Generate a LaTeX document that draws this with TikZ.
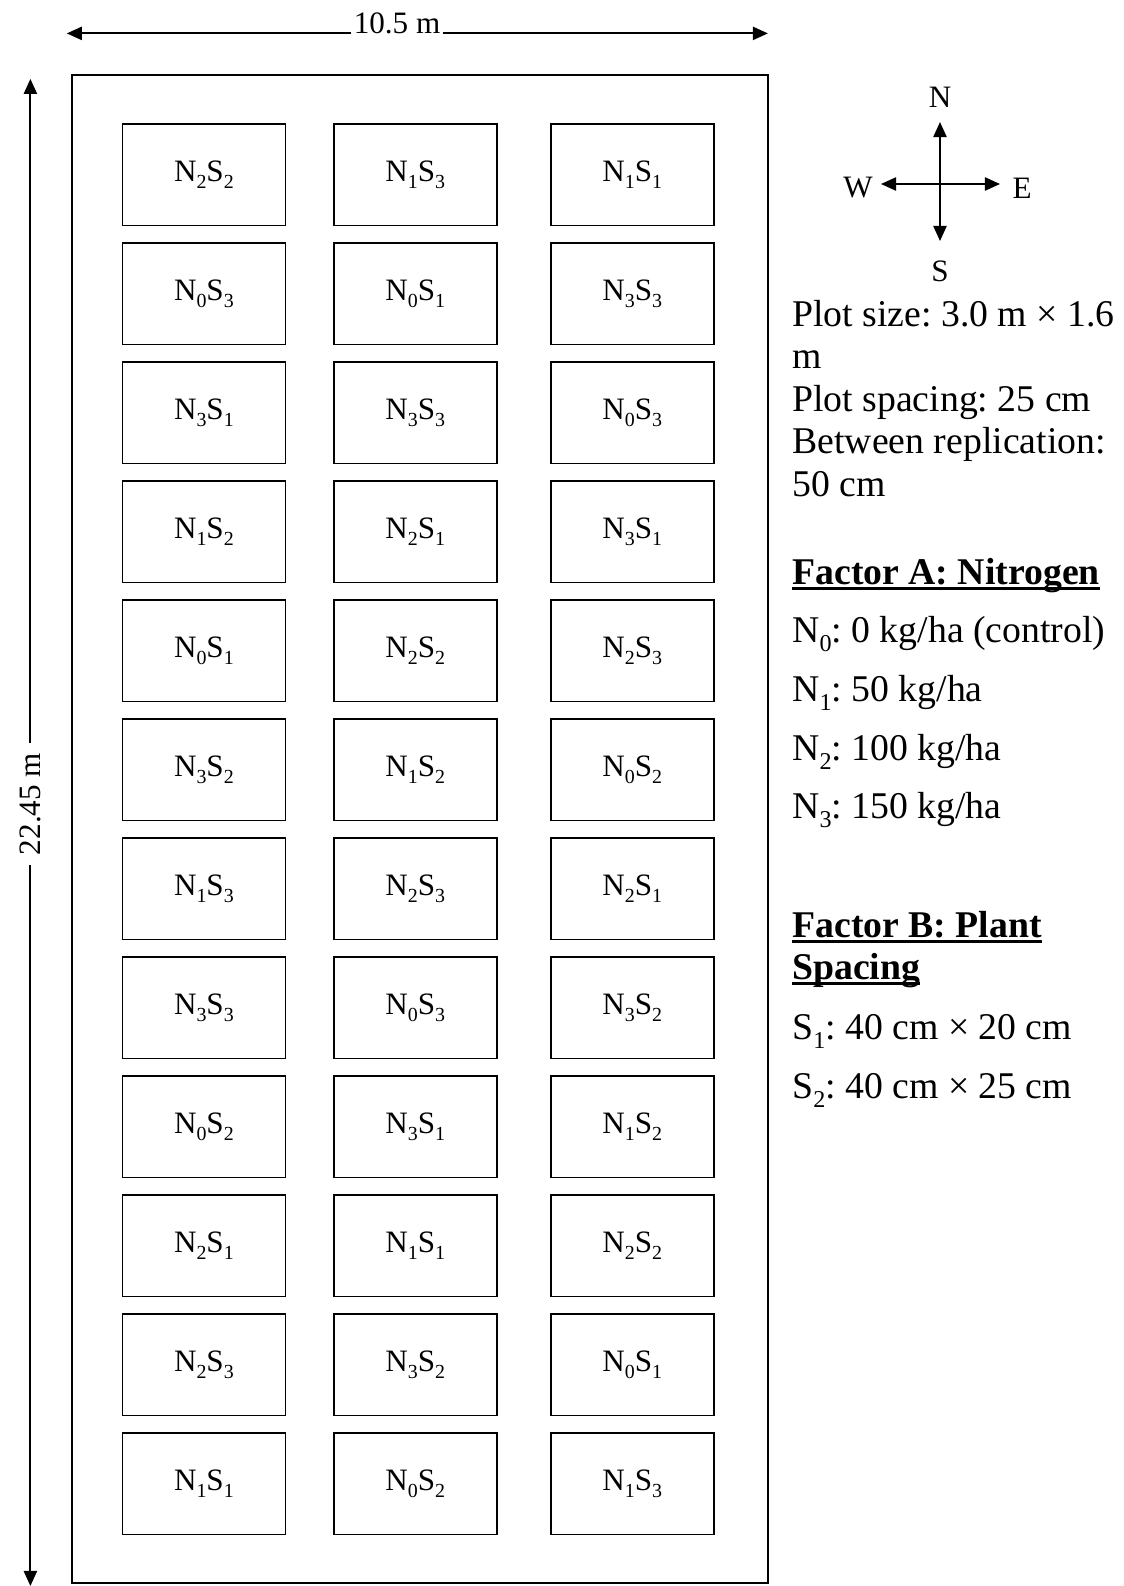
\documentclass[tikz,border=0pt]{standalone}
\usepackage{fontspec}
\setmainfont{Liberation Serif}
\usetikzlibrary{arrows.meta}
\frenchspacing

% subscript as Word sets it
\newcommand\lsub[1]{\raisebox{-0.24em}{\scalebox{0.64}{#1}}}
% plot label from two digits, e.g. 23 -> N2S3
\newcommand\plotlbl[1]{\expandafter\plotlblx#1}
\def\plotlblx#1#2{N\lsub{#1}S\lsub{#2}}
% bold heading with a heavy underline
\newcommand\hdln[1]{\setbox0\hbox{\textbf{#1}}\rlap{\rule[-3.2pt]{\wd0}{1.4pt}}\box0}

\tikzset{
  plotbox/.style={draw, line width=0.8pt, inner sep=0pt,
    minimum width=86.4pt, minimum height=53.9pt,
    font=\fontsize{16.5}{20}\selectfont},
  dimlbl/.style={inner sep=2pt, font=\fontsize{16.5}{20}\selectfont},
  dimline/.style={line width=1pt, -{Triangle[length=8pt,width=7pt]}},
  legtext/.style={anchor=base west, inner sep=0pt, font=\fontsize{20}{24}\selectfont}
}

\begin{document}
\begin{tikzpicture}[x=0.53pt,y=-0.53pt]
  \useasboundingbox (0,0) rectangle (1123,1586);

  % field border
  \draw[line width=1pt] (71.8,74.9) rectangle (767.9,1583.3);

  % plots, row by row
  \foreach \tlist [count=\i from 0] in {{22,13,11},{03,01,33},{31,33,03},
      {12,21,31},{01,22,23},{32,12,02},{13,23,21},{33,03,32},
      {02,31,12},{21,11,22},{23,32,01},{11,02,13}} {
    \foreach \t [count=\j from 0] in \tlist {
      \pgfmathsetmacro\cx{{203.9,415.3,632.3}[\j]}
      \node[plotbox] (p-\i-\j) at (\cx,{174.8+119*\i}) {\plotlbl\t};
    }
  }

  % width dimension
  \node[dimlbl, anchor=base, inner sep=1pt] (wlab) at (397,33.4) {10.5 m};
  \coordinate (wl) at (66.8,33.4);
  \coordinate (wr) at (767.9,33.4);
  \draw[dimline] (wlab.base west) -- (wl);
  \draw[dimline] (wlab.base east) -- (wr);

  % length dimension
  \node[dimlbl, rotate=90, inner sep=5pt] (hlab) at (30.4,804) {22.45 m};
  \coordinate (ht) at (30.4,78.9);
  \coordinate (hb) at (30.4,1586);
  \draw[dimline] (hlab.east) -- (ht);
  \draw[dimline] (hlab.west) -- (hb);

  % compass
  \coordinate (cc) at (940,184);
  \coordinate (cn) at (940,122);
  \coordinate (cs) at (940,241);
  \coordinate (cw) at (881,184);
  \coordinate (ce) at (1000,184);
  \node[dimlbl] (lN) at (940,97) {N};
  \node[dimlbl] (lS) at (940,271) {S};
  \node[dimlbl] (lW) at (858,188) {W};
  \node[dimlbl] (lE) at (1022,188) {E};
  \draw[dimline] (cc) -- (cn);
  \draw[dimline] (cc) -- (cs);
  \draw[dimline] (cc) -- (cw);
  \draw[dimline] (cc) -- (ce);

  % notes
  \node[legtext] (n1) at (792,326) {Plot size: 3.0 m × 1.6};
  \node[legtext] (n2) at (792,368) {m};
  \node[legtext] (n3) at (792,411) {Plot spacing: 25 cm};
  \node[legtext] (n4) at (792,453) {Between replication:};
  \node[legtext] (n5) at (792,496) {50 cm};

  % factor A
  \node[legtext] (fa) at (792,584) {\hdln{Factor A: Nitrogen}};
  \node[legtext] (a0) at (792,642) {N\lsub{0}: 0 kg/ha (control)};
  \node[legtext] (a1) at (792,701) {N\lsub{1}: 50 kg/ha};
  \node[legtext] (a2) at (792,760) {N\lsub{2}: 100 kg/ha};
  \node[legtext] (a3) at (792,818) {N\lsub{3}: 150 kg/ha};

  % factor B
  \node[legtext] (fb) at (792,937) {\hdln{Factor B: Plant}};
  \node[legtext] (fb2) at (792,979) {\hdln{Spacing}};
  \node[legtext] (b1) at (792,1039) {S\lsub{1}: 40 cm × 20 cm};
  \node[legtext] (b2) at (792,1098) {S\lsub{2}: 40 cm × 25 cm};
\end{tikzpicture}
\end{document}
